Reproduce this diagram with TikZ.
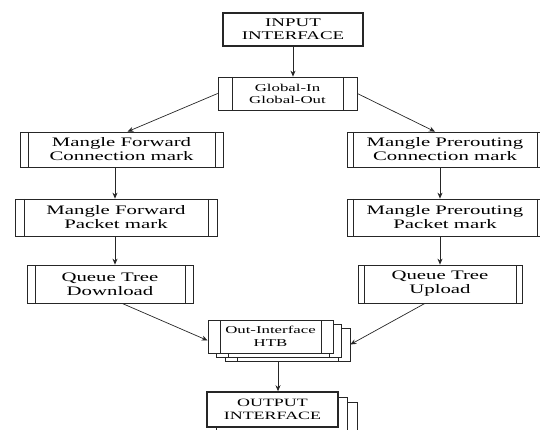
\documentclass[tikz,border=0pt]{standalone}
\usepackage{fontspec}
\setmainfont{Liberation Serif}[FakeStretch=1.6]
\usepackage{tikz}
\usetikzlibrary{arrows.meta}

\begin{document}
\begin{tikzpicture}[
    x=1pt, y=-1pt,
    box/.style={draw=black!85, fill=white, line width=0.7pt, inner sep=0pt, align=center,
      font=\fontsize{13}{14}\selectfont},
    io box/.style={box, line width=1.6pt, font=\fontsize{11.8}{13}\selectfont},
    proc box/.style={box, path picture={
        \draw[line width=0.7pt, black!85]
          ([xshift=#1]path picture bounding box.north west) -- ([xshift=#1]path picture bounding box.south west)
          ([xshift=-#1]path picture bounding box.north east) -- ([xshift=-#1]path picture bounding box.south east);}},
    proc box/.default=8pt,
    sheet/.style={box, line width=0.7pt},
    flow/.style={line width=0.7pt, black!85, ->, >={Stealth[length=6pt,width=5pt]}}
    ]
\useasboundingbox (0,0) rectangle (540,430);

% guide columns for the vertical arrows
\coordinate (colL) at (115,0);
\coordinate (colR) at (440,0);
\coordinate (colM) at (278,0);

\node[io box, minimum width=140pt, minimum height=33pt] (input) at (293,29.5) {INPUT\\INTERFACE};
\node[proc box=14pt, minimum width=139pt, minimum height=33pt, font=\fontsize{10.5}{12}\selectfont] (global) at (287.5,93.5) {Global-In\\Global-Out};

\node[proc box=8pt, minimum width=203pt, minimum height=35pt] (fwdconn) at (121.5,149.5) {Mangle Forward\\Connection mark};
\node[proc box=9pt, minimum width=202pt, minimum height=37pt] (fwdpkt) at (116,217.5) {Mangle Forward\\Packet mark};
\node[proc box=8pt, minimum width=166pt, minimum height=38pt] (qdown) at (110,284) {Queue Tree\\Download};

\node[proc box=6pt, minimum width=196pt, minimum height=35pt] (preconn) at (445,149.5) {Mangle Prerouting\\Connection mark};
\node[proc box=6pt, minimum width=196pt, minimum height=37pt] (prepkt) at (445,217.5) {Mangle Prerouting\\Packet mark};
\node[proc box=6pt, minimum width=164pt, minimum height=38pt] (qup) at (440,284) {Queue Tree\\Upload};

% stacked sheets behind the two last boxes
\node[proc box=12pt, minimum width=125pt, minimum height=33pt] (htb back2) at (287.5,344.5) {};
\node[proc box=12pt, minimum width=125pt, minimum height=33pt] (htb back1) at (279,340.5) {};
\node[proc box=12pt, minimum width=125pt, minimum height=33pt, font=\fontsize{10.5}{12.5}\selectfont] (htb) at (270.5,336.5) {Out-Interface\\HTB};

\node[sheet, minimum width=131pt, minimum height=35pt] (output back2) at (291.5,419.5) {};
\node[sheet, minimum width=131pt, minimum height=35pt] (output back1) at (282,414.5) {};
\node[io box, minimum width=131pt, minimum height=35pt, font=\fontsize{11.2}{12.5}\selectfont] (output) at (272.5,409.5) {OUTPUT\\INTERFACE};

\draw[flow] (input.south) -- (input.south |- global.north);
\draw[flow] (global.west) -- ([xshift=6pt]fwdconn.north);
\draw[flow] (global.east) -- ([xshift=-10pt]preconn.north);
\draw[flow] (fwdconn.south -| colL) -- (fwdpkt.north -| colL);
\draw[flow] (fwdpkt.south -| colL) -- (qdown.north -| colL);
\draw[flow] (preconn.south -| colR) -- (prepkt.north -| colR);
\draw[flow] (prepkt.south -| colR) -- (qup.north -| colR);
\draw[flow] ([xshift=12pt]qdown.south) -- ([yshift=-4pt]htb.west);
\draw[flow] ([xshift=-15pt]qup.south) -- (htb back2.east);
\draw[flow] (htb back2.south -| colM) -- (output.north -| colM);
\end{tikzpicture}
\end{document}
